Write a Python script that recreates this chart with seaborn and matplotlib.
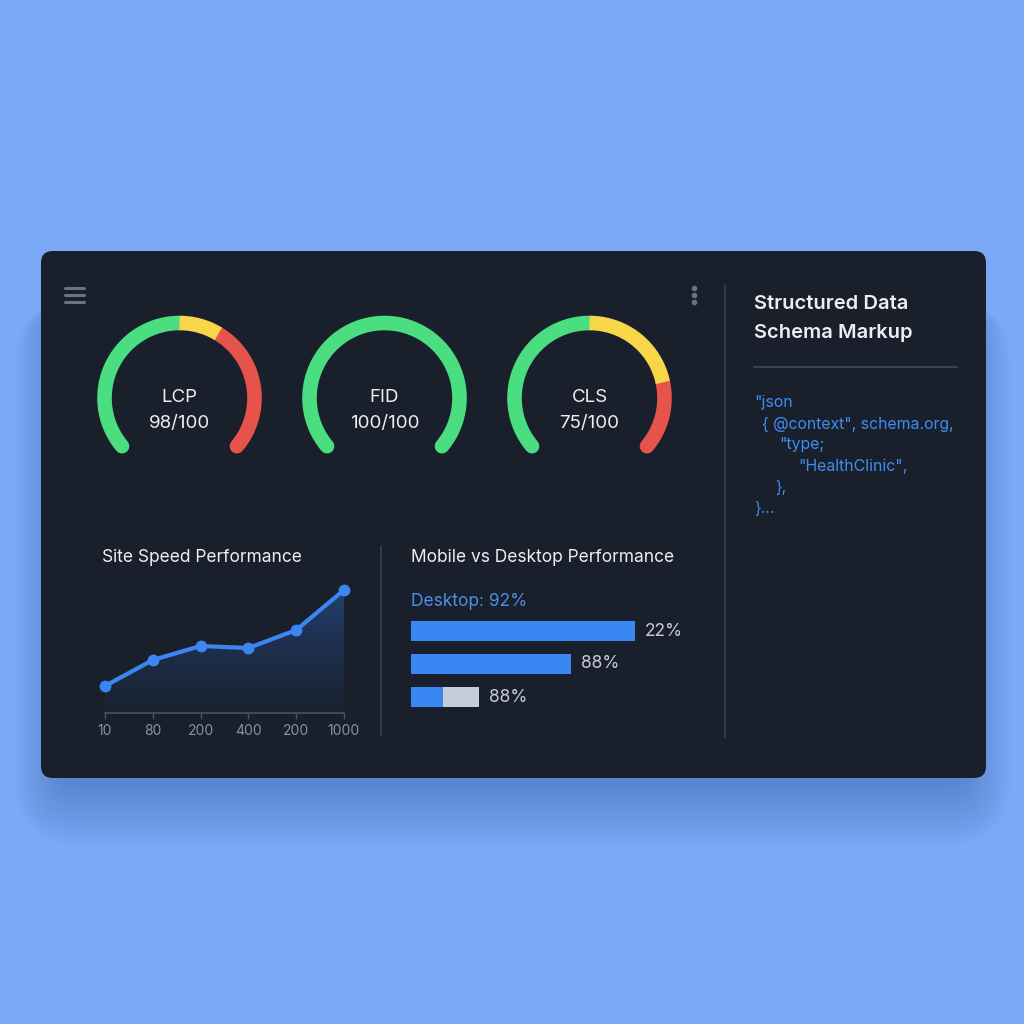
import numpy as np
import pandas as pd
import seaborn as sns
import matplotlib.pyplot as plt
from matplotlib.patches import FancyBboxPatch, Polygon

# ---- data ----
gauge_names = ["LCP", "FID", "CLS"]
gauge_scores = ["98/100", "100/100", "75/100"]
gauge_green = [50, 100, 50]    # share of the arc, percent
gauge_yellow = [12, 0, 30]
gauge_red = [38, 0, 20]

speed_labels = ["10", "80", "200", "400", "200", "1000"]
speed_values = [27, 53, 67, 65, 83, 123]

bar_rows = ["a", "b", "c"]
bar_values = [92, 66, 13]
bar_track = [92, 66, 28]
bar_labels = ["22%", "88%", "88%"]

code_lines = ['"json', '{ @context", schema.org,', '"type;', '"HealthClinic",', '},', '}...']
code_indent = [754, 762, 779, 798, 775, 754]

# ---- style ----
sns.set_theme(style="dark")
plt.rcParams["font.family"] = ["Inter", "DejaVu Sans"]

BG = "#7aa9f8"
CARD = "#19202c"
GREEN = "#4ade80"
YELLOW = "#f7d64a"
RED = "#e5534b"
BLUE = "#3b86f2"
TXT = "#eceef2"
MUTED = "#8a93a3"
LINEC = "#39414f"

W = 1024
fig = plt.figure(figsize=(10.24, 10.24), dpi=100)
fig.patch.set_facecolor(BG)


def px_axes(x0, y0, x1, y1):
    return fig.add_axes([x0 / W, 1 - y1 / W, (x1 - x0) / W, (y1 - y0) / W])


# full-figure pixel canvas
bg = fig.add_axes([0, 0, 1, 1])
bg.set_xlim(0, W)
bg.set_ylim(W, 0)
bg.axis("off")
bg.set_facecolor(BG)

# soft shadow + card
for i in range(16):
    bg.add_patch(FancyBboxPatch((60 - i * 3, 300), 905 + i * 6, 485 + i * 4,
                                boxstyle="round,pad=0,rounding_size=%d" % (20 + i * 3),
                                fc="#2a4a8a", ec="none", alpha=0.022))
bg.add_patch(FancyBboxPatch((41, 251), 945, 527, boxstyle="round,pad=0,rounding_size=12",
                            fc=CARD, ec="none"))

# icons
for y in (288, 295, 302):
    bg.plot([65, 84], [y, y], color="#6b7380", lw=2.2, solid_capstyle="round")
    bg.plot(694, y, "o", color="#6b7380", ms=3.0)

# separators
bg.plot([725, 725], [285, 737], color=LINEC, lw=1.2)
bg.plot([381, 381], [546, 735], color=LINEC, lw=1.2)
bg.plot([754, 957], [367, 367], color=LINEC, lw=1.5)

# gauges
centers = [179.5, 384.5, 589.5]
R = 75
LW = 10.5


def arc(cx, a0, a1, color, cap):
    t = np.radians(np.linspace(a0, a1, 200))
    bg.plot(cx + R * np.cos(t), 398 - R * np.sin(t), color=color, lw=LW,
            solid_capstyle=cap)


for cx, name, score, g, yv, r in zip(centers, gauge_names, gauge_scores,
                                     gauge_green, gauge_yellow, gauge_red):
    start, span = 220, 260
    a_g = start - span * g / 100
    a_y = a_g - span * yv / 100
    if r > 0:
        arc(cx, a_y, -40, RED, "round")
    arc(cx, start, a_g, GREEN, "round")
    if yv > 0:
        arc(cx, a_g, a_y, YELLOW, "butt")
    bg.text(cx, 397, name, color=TXT, fontsize=13.5, ha="center", va="center")
    bg.text(cx, 424, score, color=TXT, fontsize=13.5, ha="center", va="center")

# right panel text
bg.text(754, 304, "Structured Data", color=TXT, fontsize=14.5, fontweight="semibold",
        ha="left", va="center")
bg.text(754, 333, "Schema Markup", color=TXT, fontsize=14.5, fontweight="semibold",
        ha="left", va="center")
for i, (line, x) in enumerate(zip(code_lines, code_indent)):
    bg.text(x, 403 + i * 21, line, color="#3f8cf0", fontsize=11.4, ha="left", va="center")

# titles
bg.text(102, 558, "Site Speed Performance", color=TXT, fontsize=12.5, ha="left", va="center")
bg.text(411, 558, "Mobile vs Desktop Performance", color=TXT, fontsize=12.5,
        ha="left", va="center")
bg.text(411, 602, "Desktop: 92%", color="#4a8fe8", fontsize=12.5, ha="left", va="center")

# ---- line chart ----
ax = px_axes(105, 583, 344, 713)
df = pd.DataFrame({"x": np.arange(len(speed_values)), "y": speed_values})
xs = df["x"].values
ys = df["y"].values
poly = Polygon(np.column_stack([np.r_[xs, xs[-1], xs[0]], np.r_[ys, 0, 0]]),
               closed=True, fc="none", ec="none", transform=ax.transData)
ax.add_patch(poly)
grad = np.zeros((130, 2, 4))
rgb = np.array([0.2, 0.45, 0.9])
for k in range(130):
    grad[k, :, :3] = rgb
    grad[k, :, 3] = 0.04 + 0.36 * (k / 129) ** 1.3
im = ax.imshow(grad, extent=[0, 5, 0, 130], origin="lower", aspect="auto", zorder=1)
im.set_clip_path(poly)
sns.lineplot(data=df, x="x", y="y", ax=ax, color=BLUE, lw=3, marker="o", ms=8.5,
             markeredgewidth=0, zorder=3, clip_on=False)
ax.set_xlim(0, 5)
ax.set_ylim(0, 130)
ax.set_facecolor("none")
for s in ("top", "right", "left"):
    ax.spines[s].set_visible(False)
ax.spines["bottom"].set_color("#4a5261")
ax.spines["bottom"].set_linewidth(1.2)
ax.set_xticks(xs)
ax.set_xticklabels(speed_labels)
ax.tick_params(axis="x", colors="#4a5261", length=4, width=1, labelcolor=MUTED,
               labelsize=10, pad=4, bottom=True)
ax.set_yticks([])
ax.set_xlabel("")
ax.set_ylabel("")

# ---- bar chart ----
bx = px_axes(411, 614.5, 654, 713.5)
bdf = pd.DataFrame({"row": bar_rows, "val": bar_values, "track": bar_track})
sns.barplot(data=bdf, x="track", y="row", ax=bx, color="#c5ced8", saturation=1,
            width=0.6, orient="h", linewidth=0)
sns.barplot(data=bdf, x="val", y="row", ax=bx, color=BLUE, saturation=1,
            width=0.6, orient="h", linewidth=0)
for i, (t, lab) in enumerate(zip(bar_track, bar_labels)):
    bx.annotate(lab, (t, i), xytext=(7, 0), textcoords="offset points",
                color="#c9ced6", fontsize=12.5, ha="left", va="center")
bx.set_xlim(0, 100)
bx.set_ylim(2.5, -0.5)
bx.axis("off")

fig.savefig("out.png", dpi=100, facecolor=BG)
